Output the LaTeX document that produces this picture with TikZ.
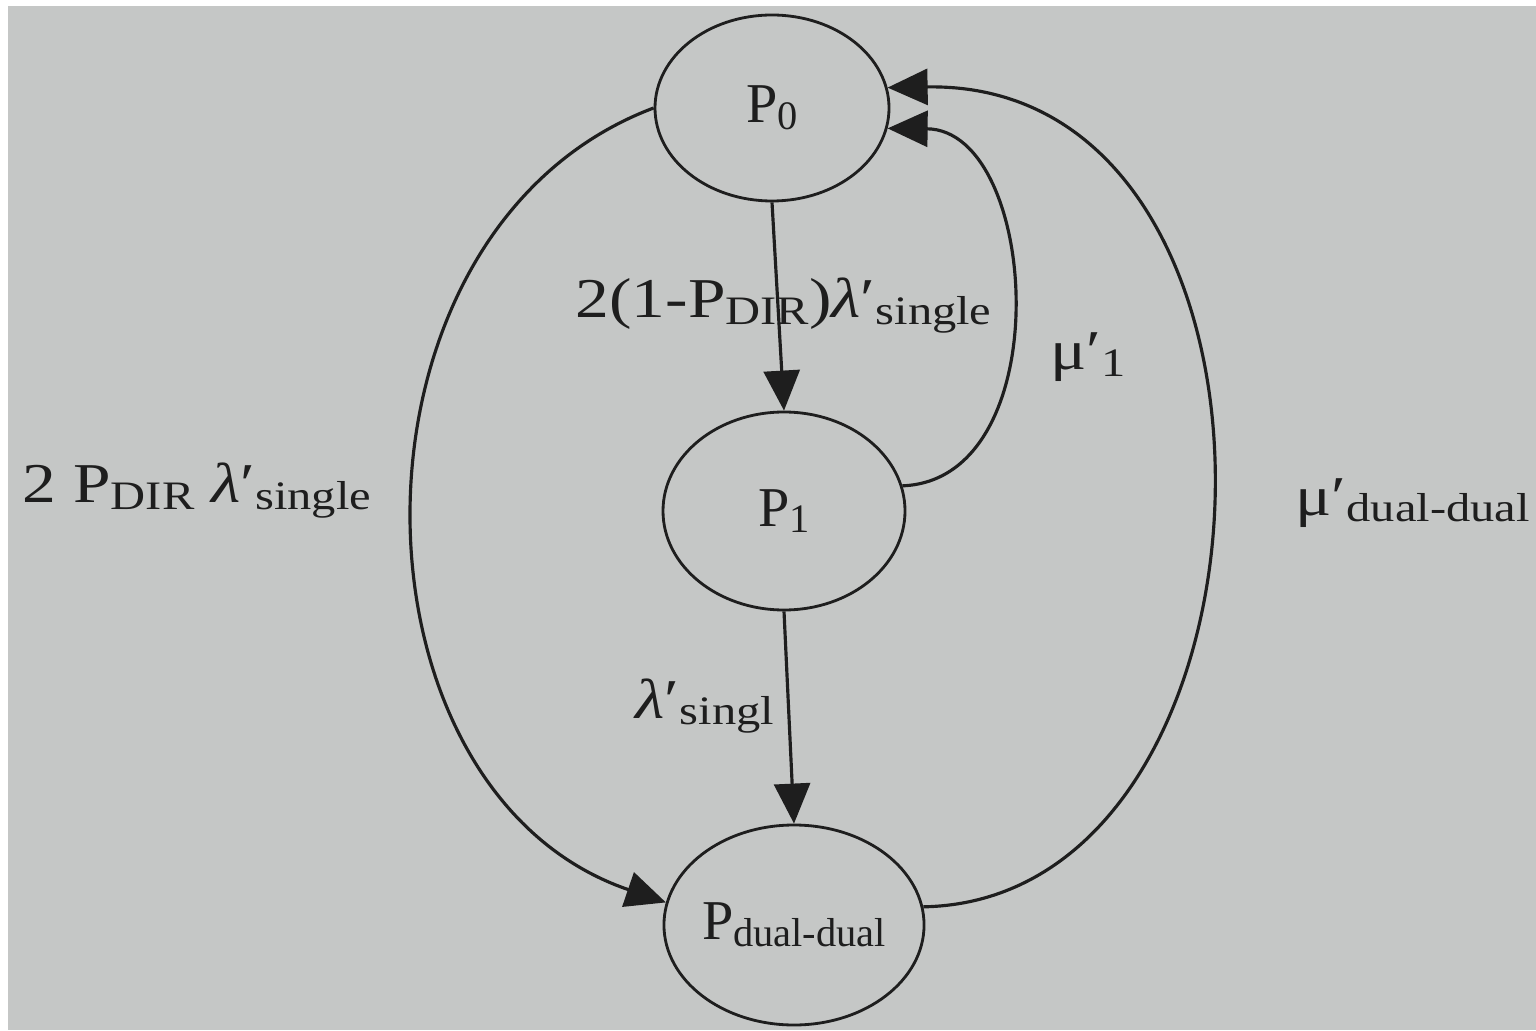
\documentclass[tikz,border=0pt]{standalone}
\usepackage{fontspec}
\setmainfont{Liberation Serif}
\newfontfamily\widefont{Liberation Serif}[FakeStretch=1.2]
\usetikzlibrary{shapes.geometric,arrows.meta}
\definecolor{paper}{RGB}{197,199,198}
\definecolor{ink}{RGB}{30,30,30}
\newcommand{\lsub}[1]{\raisebox{-0.25ex}{\fontsize{11.5}{14}\selectfont #1}}

\begin{document}
\begin{tikzpicture}[
  state/.style={ellipse, draw=ink, line width=0.8pt, inner sep=0pt, font=\fontsize{16}{19}\selectfont, text=ink},
  rate/.style={anchor=base west, inner sep=0pt, font=\widefont\fontsize{16}{19}\selectfont, text=ink},
  trans/.style={draw=ink, line width=0.9pt, -{Triangle[length=4mm,width=3.6mm]}}
]
\fill[white] (0,0) rectangle (15.36,10.30);
\fill[paper] (0.08,0) rectangle (15.36,10.24);
\useasboundingbox (0,0) rectangle (15.36,10.30);

\node[state, minimum width=2.34cm, minimum height=1.86cm] (P0) at (7.72,9.22) {P\lsub{0}};
\node[state, minimum width=2.42cm, minimum height=1.98cm] (P1) at (7.84,5.19) {P\lsub{1}};
\node[state, minimum width=2.48cm, minimum height=2.00cm] (Pdd) at (7.94,1.05) {P\lsub{dual-dual}};

\node[rate] (l01) at (5.75,7.12) {2(1-P\lsub{DIR})\textit{λ}′\lsub{single}};
\node[rate] (l0d) at (0.22,5.27) {2 P\lsub{DIR} \textit{λ}′\lsub{single}};
\node[rate] (l10) at (10.50,6.60) {μ′\lsub{1}};
\node[rate] (ld0) at (12.95,5.15) {μ′\lsub{dual-dual}};
\node[rate] (l1d) at (6.35,3.12) {\textit{λ}′\lsub{singl}};

\draw[trans] (P0.south) -- (P1.north);
\draw[trans] (P1.south) -- (Pdd.north);
\draw[trans] (P0.west) .. controls (3.30,8.00) and (3.36,2.40) .. (Pdd.170);
\draw[trans] (P1.12) .. controls (10.60,5.50) and (10.40,9.00) .. (P0.-10);
\draw[trans] (Pdd.8) .. controls (13.00,1.30) and (13.24,9.50) .. (P0.10);
\end{tikzpicture}
\end{document}
